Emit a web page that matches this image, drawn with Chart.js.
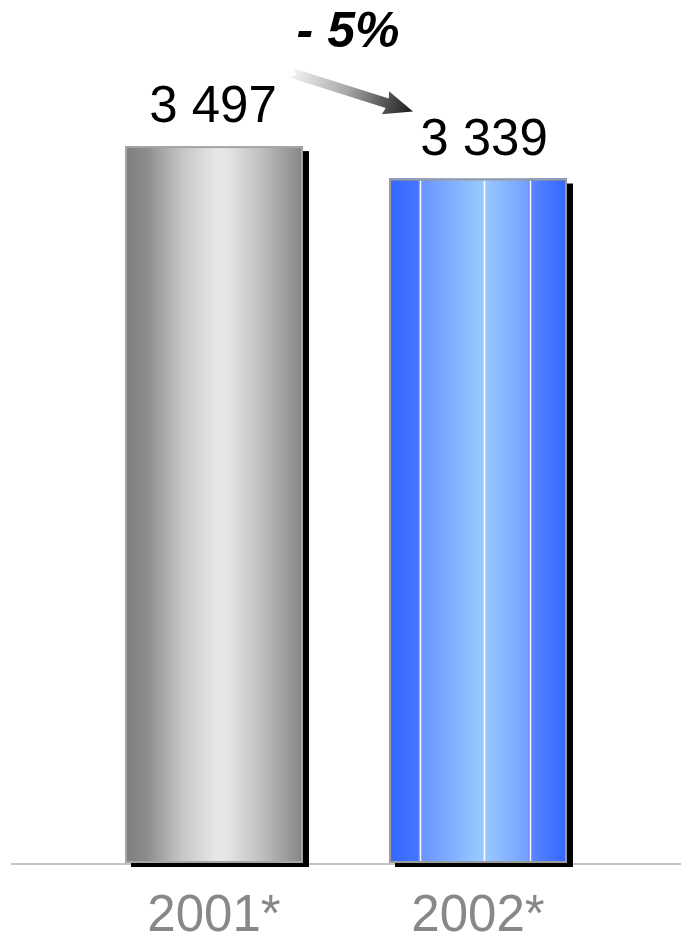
<!DOCTYPE html>
<html>
<head>
<meta charset="utf-8">
<script src="https://cdn.jsdelivr.net/npm/chart.js@4.4.1/dist/chart.umd.min.js"></script>
<style>
  html, body { margin: 0; padding: 0; background: #fff; }
  canvas { display: block; }
</style>
</head>
<body>
<canvas id="salesChart" width="688" height="940"></canvas>
<script>
// Años y totales
const categories = ['2001*', '2002*'];
const values = [3497, 3339];

// Degradados horizontales de cada barra (posición relativa, color)
const barStops = [
    [[0, '#7e7e7e'], [0.12, '#8c8c8c'], [0.32, '#c6c6c6'], [0.52, '#e8e8e8'], [0.58, '#e4e4e4'], [0.78, '#bcbcbc'], [1, '#858585']],
    [[0, '#3366ff'], [0.16, '#4575ff'], [0.175, '#6a92ff'], [0.53, '#99ccff'], [0.54, '#99c8ff'], [0.78, '#74a0ff'], [0.795, '#5a86ff'], [1, '#3366ff']]
];
// Líneas blancas verticales (solo en la segunda barra)
const barLines = [[], [0.174, 0.534, 0.79]];

const FONT = "'Liberation Sans', Arial, sans-serif";

function formatValue(v) {
    return String(v).replace(/\B(?=(\d{3})+(?!\d))/g, ' ');
}

function barBox(el) {
    const p = el.getProps(['x', 'y', 'width', 'base'], true);
    return { left: p.x - p.width / 2, right: p.x + p.width / 2, top: p.y, bottom: p.base, x: p.x, w: p.width };
}

// Sombra negra, línea base y relleno con degradado
const barStyle = {
    id: 'barStyle',
    beforeDatasetsDraw(chart) {
        const ctx = chart.ctx;
        const bottom = chart.scales.y.getPixelForValue(0);
        ctx.save();
        ctx.strokeStyle = '#c4c4c4';
        ctx.lineWidth = 2;
        ctx.beginPath();
        ctx.moveTo(11, bottom + 1);
        ctx.lineTo(681, bottom + 1);
        ctx.stroke();
        chart.getDatasetMeta(0).data.forEach((el) => {
            const b = barBox(el);
            ctx.fillStyle = '#000';
            ctx.fillRect(b.left + 6, b.top + 5, b.w, b.bottom - b.top - 1);
        });
        ctx.restore();
    },
    afterDatasetsDraw(chart) {
        const ctx = chart.ctx;
        ctx.save();
        chart.getDatasetMeta(0).data.forEach((el, i) => {
            const b = barBox(el);
            const g = ctx.createLinearGradient(b.left, 0, b.right, 0);
            barStops[i].forEach(([pos, col]) => g.addColorStop(pos, col));
            ctx.fillStyle = g;
            ctx.fillRect(b.left, b.top, b.w, b.bottom - b.top);

            ctx.strokeStyle = '#fff';
            ctx.lineWidth = 1.5;
            barLines[i].forEach((pos) => {
                const lx = Math.round(b.left + pos * b.w) + 0.5;
                ctx.beginPath();
                ctx.moveTo(lx, b.top + 2);
                ctx.lineTo(lx, b.bottom - 1);
                ctx.stroke();
            });

            ctx.strokeStyle = i === 0 ? '#a6a6a6' : '#9c9c9c';
            ctx.lineWidth = 2;
            ctx.strokeRect(b.left + 1, b.top + 1, b.w - 2, b.bottom - b.top - 2);

            // Valor encima de la barra
            ctx.fillStyle = '#000';
            ctx.font = `51px ${FONT}`;
            ctx.textAlign = 'center';
            ctx.textBaseline = 'alphabetic';
            ctx.fillText(formatValue(values[i]), b.x + (i === 0 ? -1 : 6), b.top - 24);
        });
        ctx.restore();
    },
    afterDraw(chart) {
        const ctx = chart.ctx;
        const bars = chart.getDatasetMeta(0).data.map(barBox);
        const change = Math.round((values[1] - values[0]) / values[0] * 100);

        ctx.save();
        ctx.fillStyle = '#000';
        ctx.font = `italic bold 50px ${FONT}`;
        ctx.textAlign = 'center';
        ctx.textBaseline = 'alphabetic';
        ctx.fillText((change < 0 ? '- ' : '+ ') + Math.abs(change) + '%', 348, 47);

        // Flecha con degradado entre las dos etiquetas
        const tx = bars[0].right - 11, ty = bars[0].top - 73;
        const hx = bars[1].left + 24, hy = bars[1].top - 67;
        const len = Math.hypot(hx - tx, hy - ty);
        const ang = Math.atan2(hy - ty, hx - tx);
        ctx.translate(tx, ty);
        ctx.rotate(ang);
        const g = ctx.createLinearGradient(0, 0, len, 0);
        g.addColorStop(0, '#f4f4f4');
        g.addColorStop(0.45, '#a8a8a8');
        g.addColorStop(1, '#1a1a1a');
        ctx.fillStyle = g;
        ctx.beginPath();
        ctx.moveTo(-2, -5);
        ctx.lineTo(len - 27, -5);
        ctx.lineTo(len - 29, -12);
        ctx.lineTo(len, 0);
        ctx.lineTo(len - 29, 12);
        ctx.lineTo(len - 27, 5);
        ctx.lineTo(-2, 5);
        ctx.lineTo(5, 0);
        ctx.closePath();
        ctx.fill();
        ctx.restore();
    }
};

new Chart(document.getElementById('salesChart'), {
    type: 'bar',
    data: {
        labels: categories,
        datasets: [{
            data: values,
            backgroundColor: ['#b0b0b0', '#6699ff'],
            borderWidth: 0,
            categoryPercentage: 1,
            barPercentage: 0.674
        }]
    },
    options: {
        responsive: false,
        animation: false,
        layout: { padding: { left: 82, right: 78, top: 43, bottom: 0 } },
        plugins: { legend: { display: false }, tooltip: { enabled: false } },
        scales: {
            x: {
                grid: { display: false, drawTicks: false },
                border: { display: false },
                ticks: {
                    color: '#888888',
                    padding: 28,
                    font: { family: FONT, size: 51, lineHeight: 1 }
                },
                afterFit(scale) {
                    scale.height = 77;
                }
            },
            y: {
                display: false,
                min: 0,
                max: 4000
            }
        }
    },
    plugins: [barStyle]
});
</script>
</body>
</html>
